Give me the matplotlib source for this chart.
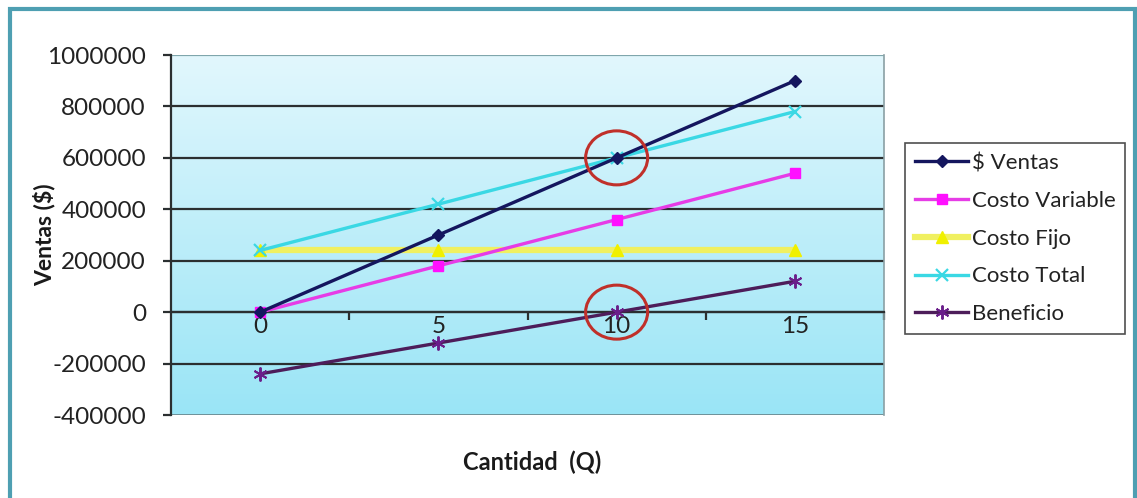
import numpy as np
import matplotlib
matplotlib.use("Agg")
import matplotlib.pyplot as plt
from matplotlib.patches import Ellipse, Rectangle

plt.rcParams['font.family'] = ['Lato', 'DejaVu Sans']

# Break-even data
cantidad = ["0", "5", "10", "15"]
ventas = [0, 300000, 600000, 900000]
costo_variable = [0, 180000, 360000, 540000]
costo_fijo = [240000, 240000, 240000, 240000]
costo_total = [240000, 420000, 600000, 780000]
beneficio = [-240000, -120000, 0, 120000]
y_ticks = [-400000, -200000, 0, 200000, 400000, 600000, 800000, 1000000]
break_even_idx = 2

W, H = 1137, 498
fig = plt.figure(figsize=(W / 100, H / 100), dpi=100)
fig.patch.set_facecolor("white")

# outer chart frame
frame = Rectangle((10 / W, -0.05), 1125 / W, 1 - 9 / H + 0.05,
                  transform=fig.transFigure, fill=False,
                  edgecolor="#4e9fb2", linewidth=3, zorder=0)
fig.add_artist(frame)

left, right, top, bottom = 171, 884, 55, 415
ax = fig.add_axes([left / W, 1 - bottom / H, (right - left) / W, (bottom - top) / H])

x = np.arange(len(cantidad))
ax.set_xlim(-0.5, len(cantidad) - 0.5)
ax.set_ylim(y_ticks[0], y_ticks[-1])

# plot-area gradient background
grad = np.linspace(0, 1, 256).reshape(-1, 1)
c_top = np.array([0.886, 0.969, 0.992])
c_bot = np.array([0.604, 0.898, 0.965])
img = c_top + (c_bot - c_top) * grad[:, :, None] * np.ones((1, 2, 1))
ax.imshow(img, extent=(-0.5, len(cantidad) - 0.5, y_ticks[0], y_ticks[-1]),
          aspect="auto", zorder=0, origin="upper")

# horizontal gridlines
for yv in y_ticks[1:-1]:
    ax.axhline(yv, color="#2b2f30", linewidth=1.6, zorder=1)
ax.axhline(y_ticks[-1], color="#7fa6ac", linewidth=1.6, zorder=1)
ax.axhline(y_ticks[0], color="#6a8a90", linewidth=2, zorder=1)

# series
l_fijo, = ax.plot(x, costo_fijo, color="#f0f060", linewidth=4.5, marker="^", markersize=8,
                  markerfacecolor="#f0f000", markeredgecolor="#f0f000", zorder=2,
                  label="Costo Fijo")
l_total, = ax.plot(x, costo_total, color="#3ad8e4", linewidth=2.4, marker="x", markersize=8,
                   markeredgewidth=1.6, zorder=3, label="Costo Total")
l_var, = ax.plot(x, costo_variable, color="#e63ce6", linewidth=2.4, marker="s", markersize=7,
                 markerfacecolor="#ff10ff", markeredgecolor="#ff10ff", zorder=4,
                 label="Costo Variable")
l_ven, = ax.plot(x, ventas, color="#14165e", linewidth=2.4, marker="D", markersize=6,
                 zorder=5, label="$ Ventas")
l_ben, = ax.plot(x, beneficio, color="#4d1d5a", linewidth=2.4, marker=(6, 2, 0), markersize=10,
                 markeredgewidth=1.4, markeredgecolor="#6a1e8a", zorder=5, label="Beneficio")

# break-even highlights
px_x = len(cantidad) / (right - left)
px_y = (y_ticks[-1] - y_ticks[0]) / (bottom - top)
for yv in (ventas[break_even_idx], beneficio[break_even_idx]):
    ax.add_patch(Ellipse((break_even_idx, yv), 62 * px_x, 54 * px_y, fill=False,
                         edgecolor="#c0302a", linewidth=2.2, zorder=6))

# axes styling
ax.spines["bottom"].set_position(("data", 0))
ax.spines["bottom"].set_color("#2b2f30")
ax.spines["bottom"].set_linewidth(1.6)
ax.spines["left"].set_color("#2b2f30")
ax.spines["left"].set_linewidth(1.6)
ax.spines["top"].set_visible(False)
ax.spines["right"].set_color("#8aa0a4")
ax.spines["right"].set_linewidth(1.2)

ax.set_yticks(y_ticks)
ax.set_yticklabels([str(v) for v in y_ticks])
ax.tick_params(axis="y", direction="out", length=6, width=1.6, color="#2b2f30",
               labelsize=17.5, labelcolor="#222222", pad=12)

ax.set_xticks(x + 0.5)
ax.set_xticklabels([])
ax.set_xticks(x, minor=True)
ax.set_xticklabels(cantidad, minor=True)
ax.tick_params(axis="x", which="major", direction="out", length=6, width=1.6, color="#2b2f30")
ax.tick_params(axis="x", which="minor", length=0, labelsize=17.5, labelcolor="#222222", pad=3)

fig.text(44 / W, 1 - 235 / H, "Ventas ($)", rotation=90, ha="center", va="center",
         fontsize=16.5, fontweight="bold", color="#1a1a1a")
fig.text(532 / W, 1 - 462 / H, "Cantidad  (Q)", ha="center", va="center",
         fontsize=17, fontweight="bold", color="#1a1a1a")

handles = [l_ven, l_var, l_fijo, l_total, l_ben]
labels = ["$ Ventas", "Costo Variable", "Costo Fijo", "Costo Total", "Beneficio"]
leg = fig.legend(handles, labels, loc="upper left", bbox_to_anchor=(905 / W, 1 - 143 / H),
                 bbox_transform=fig.transFigure, frameon=True, fancybox=False,
                 edgecolor="#222222", fontsize=16, handlelength=2.4, handletextpad=0.15,
                 labelspacing=0.8, borderpad=0.45, borderaxespad=0)
leg.get_frame().set_linewidth(1.2)
for t in leg.get_texts():
    t.set_color("#222222")

fig.savefig("out.png", dpi=100)
